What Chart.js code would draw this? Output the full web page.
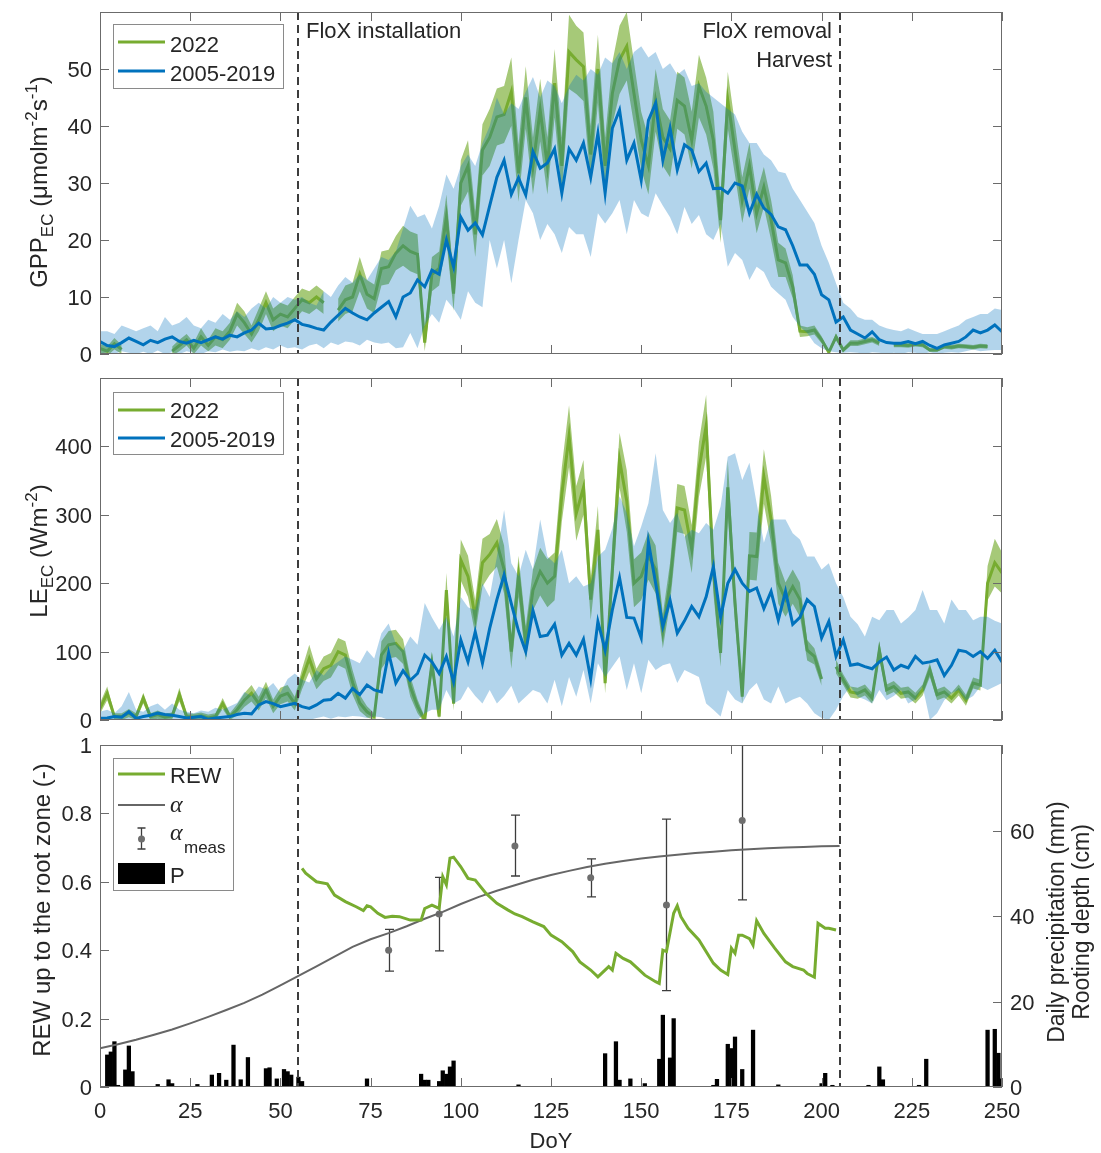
<!DOCTYPE html>
<html>
<head>
<meta charset="utf-8">
<script src="https://cdn.jsdelivr.net/npm/chart.js@4.4.1/dist/chart.umd.min.js"></script>
<style>
  body { margin: 0; background: #fff; width: 1101px; height: 1153px; position: relative; overflow: hidden; }
  canvas { position: absolute; left: 0; }
</style>
</head>
<body>
<canvas id="gppChart" width="1101" height="370" style="top:0px"></canvas>
<canvas id="leChart" width="1101" height="370" style="top:370px"></canvas>
<canvas id="rewChart" width="1101" height="423" style="top:730px"></canvas>
<script>
// Day grid for the GPP and LE panels (every second day)
const days = [
  0, 2, 4, 6, 8, 10, 12, 14, 16, 18, 20, 22, 24, 26, 28, 30, 32, 34, 36, 38,
  40, 42, 44, 46, 48, 50, 52, 54, 56, 58, 60, 62, 64, 66, 68, 70, 72, 74, 76, 78,
  80, 82, 84, 86, 88, 90, 92, 94, 96, 98, 100, 102, 104, 106, 108, 110, 112, 114, 116, 118,
  120, 122, 124, 126, 128, 130, 132, 134, 136, 138, 140, 142, 144, 146, 148, 150, 152, 154, 156, 158,
  160, 162, 164, 166, 168, 170, 172, 174, 176, 178, 180, 182, 184, 186, 188, 190, 192, 194, 196, 198,
  200, 202, 204, 206, 208, 210, 212, 214, 216, 218, 220, 222, 224, 226, 228, 230, 232, 234, 236, 238,
  240, 242, 244, 246, 248, 250
];

// GPP (umol m-2 s-1)
const gppMean = [
  2.2, 1.5, 1.3, 2.0, 2.8, 2.2, 1.6, 2.4, 2.0, 2.6,
  3.0, 2.2, 1.9, 2.4, 2.0, 2.5, 3.0, 2.6, 3.3, 3.0,
  3.7, 4.2, 5.4, 4.4, 4.5, 5.0, 5.4, 6.0, 5.2, 4.9,
  4.5, 4.2, 5.6, 6.8, 8.0, 7.2, 6.5, 6.0, 7.2, 8.2,
  9.2, 6.5, 10.0, 10.7, 13.0, 11.8, 14.7, 14.0, 20.0, 15.3,
  24.0, 21.7, 23.0, 20.9, 26.0, 31.0, 34.0, 28.0, 30.9, 27.9,
  35.5, 32.6, 33.5, 36.0, 28.2, 36.0, 34.0, 37.0, 31.0, 38.7,
  28.2, 39.6, 42.8, 34.0, 37.0, 30.5, 41.0, 44.0, 34.0, 39.6,
  32.3, 36.7, 35.8, 32.0, 33.5, 29.0, 29.1, 28.2, 30.0, 29.5,
  24.7, 28.0, 25.6, 24.5, 22.3, 21.8, 19.0, 15.6, 15.6, 14.0,
  10.4, 9.5, 5.6, 6.5, 4.2, 3.5, 2.8, 3.9, 2.5, 2.0,
  1.9, 1.9, 2.2, 1.8, 2.2, 1.5, 1.0, 1.6, 1.9, 2.2,
  3.0, 4.2, 3.7, 4.2, 5.1, 3.9
];
const gppMax = [
  4, 4, 3.5, 5, 4.5, 4, 4.5, 5, 4, 6.5,
  5, 5.5, 6.5, 5, 4.5, 6, 5.5, 7, 6, 7.5,
  6.5, 8, 9, 8, 10, 9, 10, 9.5, 10, 9,
  8.5, 11, 10, 12, 13.5, 12.5, 14, 13, 15, 17,
  16.5, 18, 22, 26, 24, 24.5, 22, 26, 31.5, 29,
  33, 35, 33, 37, 40, 45, 42, 44, 43, 46,
  48.6, 45, 48, 47, 44, 47, 49, 48, 50, 49,
  52, 51, 53, 50, 53, 54, 52, 53, 50, 51,
  49, 50, 47, 47.5, 46, 45, 44, 43, 42, 39,
  37, 37, 35, 34, 32, 31.7, 29, 27, 25, 23,
  19, 16, 12.4, 9, 8, 6.5, 6, 6, 5, 4.5,
  4.2, 4, 4.5, 4, 3.5, 3.5, 3.5, 4, 4.5, 5,
  6, 6.5, 7, 7, 8, 7.7
];
const gppMin = [
  0, 0.3, 0, 0.5, 0.2, 0, 0.4, 0, 0.6, 0,
  0.3, 0, 0.5, 0.2, 0, 0.5, 0.3, 0.8, 0.4, 0.6,
  0.5, 1.0, 0.6, 1.2, 0.8, 1.5, 1.0, 1.2, 0.8, 1.5,
  1.8, 1.0, 2.0, 1.6, 2.2, 2.0, 1.5, 2.5, 2.0, 1.8,
  2.0, 1.0, 1.2, 3.7, 1.0, 5.0, 7.0, 5.5, 9.5, 8.0,
  6.0, 11.0, 9.0, 8.2, 20.0, 15.0, 20.0, 12.4, 20.0, 27.0,
  24.7, 20.0, 22.8, 21.0, 17.7, 22.3, 21.0, 21.0, 17.0, 24.7,
  22.9, 24.7, 27.0, 21.0, 27.0, 24.7, 24.0, 28.2, 26.0, 24.0,
  21.0, 25.8, 22.8, 24.4, 21.0, 20.0, 22.8, 15.3, 17.7, 16.5,
  13.0, 15.3, 14.4, 11.8, 10.6, 9.5, 6.5, 4.8, 3.7, 1.9,
  1.0, 0.5, 0.3, 0.2, 0.3, 0.2, 0, 0.3, 0.2, 0,
  0.2, 0, 0.3, 0.2, 0, 0.3, 0, 0.2, 0.3, 0.2,
  0.5, 0.8, 0.5, 0.6, 0.7, 0.7
];
const gpp2022 = [
  1.0, 0.5, 1.8, 0.8, null, null, null, null, null, null,
  0.5, 1.5, 2.5, 1.0, 3.0, 1.5, 3.0, 2.5, 4.0, 7.0,
  5.5, 3.5, 6.0, 9.0, 6.0, 7.0, 6.5, 8.0, 9.5, 9.0,
  10.0, 9.0, null, 7.7, 9.5, 10.0, 14.0, 10.5, 9.7, 15.0,
  15.3, 17.7, 19.0, 18.0, 17.5, 2.0, 14.0, 15.0, 24.0, 10.6,
  30.0, 33.0, 21.0, 35.8, 38.0, 41.6, 42.0, 46.0, 31.7, 45.0,
  33.0, 42.8, 33.0, 47.5, 33.0, 53.0, 51.6, 50.4, 35.0, 50.0,
  33.0, 45.7, 51.6, 54.0, 45.7, 37.5, 33.0, 44.5, 38.0, 36.0,
  44.5, 43.5, 37.5, 47.0, 43.5, 37.5, 23.5, 44.5, 35.8, 27.0,
  33.0, 24.7, 29.3, 23.5, 16.5, 16.0, 11.8, 4.0, 3.9, 4.2,
  2.5, 0.3, 3.0, 0.7, 1.9, 1.9, 2.2, 2.5, 1.9, null,
  1.6, 1.6, 1.5, 1.7, 1.6, 0.7, 0.7, 1.3, 1.2, 1.4,
  1.3, 1.2, 1.4, 1.3, null, null
];
const gpp2022Err = [
  0.8, 0.8, 1.0, 0.8, 0, 0, 0, 0, 0, 0,
  0.8, 1.0, 1.0, 1.0, 1.5, 1.0, 1.5, 1.5, 1.5, 2.0,
  2.0, 1.5, 2.0, 2.0, 2.0, 2.0, 2.0, 2.0, 2.0, 2.0,
  2.0, 2.0, 0, 2.0, 2.5, 2.5, 3.0, 2.5, 2.5, 3.0,
  3.0, 3.0, 3.5, 3.5, 3.5, 1.5, 3.0, 3.0, 4.0, 3.0,
  4.0, 4.5, 4.0, 4.5, 5.0, 5.0, 5.0, 6.0, 5.0, 5.5,
  5.0, 5.5, 5.0, 6.0, 5.0, 6.5, 6.0, 6.0, 5.0, 6.0,
  5.0, 5.5, 6.0, 6.0, 5.5, 5.0, 5.0, 5.5, 5.0, 5.0,
  5.0, 5.0, 5.0, 5.5, 5.0, 5.0, 4.0, 5.0, 4.5, 4.0,
  4.0, 3.5, 3.5, 3.5, 3.0, 2.5, 2.0, 1.0, 0.8, 0.8,
  0.6, 0.3, 0.6, 0.4, 0.5, 0.5, 0.5, 0.5, 0.5, 0,
  0.4, 0.4, 0.4, 0.4, 0.4, 0.3, 0.3, 0.4, 0.4, 0.4,
  0.4, 0.4, 0.4, 0.4, 0, 0
];

// LE (W m-2)
const leMean = [
  2.4, 3, 5, 4, 12, 2.4, 5, 7, 10, 8,
  7, 5, 3, 4, 5, 1, 3, 4, 5, 8,
  10, 9, 22, 27, 24, 19.5, 22, 24.4, 19.5, 17,
  22, 29, 30, 39, 32, 46, 37, 51, 44, 41,
  98, 54, 72, 58, 68, 95, 85, 68, 93, 56,
  117, 85, 129, 83, 134, 176, 212, 170, 130, 100,
  160, 122, 124, 140, 95, 112, 95, 118, 60, 144,
  102, 161, 208, 150, 149, 120, 260, 200, 137, 175,
  127, 145, 166, 151, 180, 224, 150, 200, 220, 200,
  188, 193, 163, 188, 146, 188, 140, 150, 176, 166,
  120, 144, 93, 117, 80, 82, 78, 75, 85, 92,
  73, 80, 76, 93, 83, 85, 88, 65, 80, 102,
  100, 93, 100, 90, 102, 85
];
const leMax = [
  12, 15, 10, 20, 41, 15, 12, 20, 24, 15,
  24, 15, 12, 10, 14, 12, 18, 15, 20, 25,
  41, 35, 49, 45, 54, 40, 60, 68, 59, 55,
  73, 65, 78, 85, 93, 88, 83, 102, 90, 127,
  141, 112, 102, 122, 110, 171, 150, 132, 151, 122,
  180, 165, 161, 200, 180, 239, 307, 229, 210, 249,
  220, 293, 239, 229, 249, 200, 210, 195, 200, 239,
  249, 280, 327, 303, 254, 283, 317, 390, 307, 288,
  303, 268, 278, 273, 288, 278, 312, 385, 390, 351,
  376, 317, 259, 293, 293, 293, 273, 264, 239, 239,
  220, 229, 200, 180, 151, 140, 122, 151, 146, 161,
  161, 141, 150, 161, 190, 161, 161, 141, 176, 161,
  161, 146, 151, 151, 145, 141
];
const leMin = [
  0, 0, 0, 0, 0, 0, 0, 0, 0, 0,
  0, 0, 0, 0, 0, 0, 0, 0, 0, 0,
  0, 0, 0, 0, 0, 0, 0, 2, 0, 0,
  3, 5, 2, 5, 4, 6, 5, 3, 5, 4,
  0, 0, 0, 0, 0, 10, 15, 15, 44, 24,
  30, 49, 35, 24, 44, 24, 35, 50, 24, 34,
  44, 40, 24, 59, 20, 63, 34, 73, 24, 83,
  63, 78, 93, 44, 83, 39, 88, 73, 80, 83,
  54, 73, 68, 63, 24, 15, 5, 44, 30, 24,
  44, 54, 30, 24, 49, 24, 30, 34, 24, 10,
  3, 0, 15, 35, 49, 34, 30, 24, 44, 29,
  35, 44, 24, 30, 49, 0, 10, 29, 39, 44,
  29, 35, 49, 44, 49, 54
];
const le2022 = [
  17, 39, 5, 5, 10, 5, 32, 5, 8, 4,
  6, 37, 5, 4, 6, 3, 5, 24, 5, 15,
  29, 39, 24, 44, 20, 35, 39, 24, 60, 90,
  60, 75, 80, 100, 95, 55, 25, 12, 5, 95,
  110, 112, 100, 49, 20, 0, 83, 5, 190, 24,
  234, 210, 150, 230, 242, 259, 220, 100, 210, 112,
  190, 217, 200, 210, 330, 415, 302, 340, 176, 278,
  54, 220, 380, 320, 200, 210, 240, 220, 130, 200,
  310, 307, 250, 366, 430, 220, 98, 340, 171, 34,
  240, 239, 356, 293, 200, 176, 195, 176, 102, 93,
  60, null, 78, 59, 41, 39, 44, 32, 102, 44,
  49, 39, 41, 32, 44, 73, 37, 41, 32, 44,
  29, 54, 51, 200, 230, 215
];
const le2022Err = [
  8, 10, 5, 5, 6, 5, 8, 5, 6, 5,
  5, 10, 5, 5, 5, 5, 5, 8, 5, 8,
  10, 12, 10, 12, 10, 12, 12, 10, 15, 20,
  15, 18, 18, 20, 20, 18, 12, 8, 5, 20,
  20, 20, 18, 15, 10, 5, 15, 5, 25, 10,
  30, 30, 25, 35, 30, 35, 35, 25, 30, 25,
  30, 35, 35, 35, 40, 45, 40, 40, 30, 35,
  15, 35, 40, 45, 35, 35, 35, 35, 25, 30,
  35, 35, 35, 40, 45, 35, 20, 40, 30, 10,
  35, 35, 40, 35, 30, 25, 25, 25, 15, 12,
  10, 0, 10, 8, 8, 8, 8, 8, 12, 8,
  8, 8, 8, 8, 8, 10, 8, 8, 8, 8,
  8, 8, 8, 25, 35, 30
];

// REW up to the root zone (-)
const rewDays = [
  56, 57, 60, 63, 65, 68, 71, 73, 74, 75, 77, 79, 81, 83, 86, 89, 90, 92, 94, 95,
  96, 97, 98, 100, 102, 104, 107, 110, 113, 115, 117, 120, 123, 125, 128, 131, 133, 136, 138, 141,
  142, 143, 145, 147, 149, 151, 154, 155, 156, 157, 159, 160, 161, 163, 166, 170, 172, 174, 175, 176,
  177, 178, 180, 181, 182, 184, 187, 190, 192, 195, 196, 198, 199, 201, 202, 204
];
const rew = [
  0.639, 0.625, 0.600, 0.594, 0.561, 0.542, 0.527, 0.516, 0.530, 0.527, 0.508, 0.496, 0.499, 0.498, 0.488, 0.488, 0.522, 0.532, 0.522, 0.615,
  0.591, 0.669, 0.672, 0.644, 0.610, 0.605, 0.566, 0.537, 0.518, 0.506, 0.498, 0.483, 0.469, 0.444, 0.425, 0.396, 0.366, 0.342, 0.322, 0.352,
  0.342, 0.391, 0.376, 0.366, 0.347, 0.327, 0.308, 0.303, 0.400, 0.396, 0.508, 0.530, 0.498, 0.464, 0.430, 0.362, 0.342, 0.329, 0.406, 0.391,
  0.444, 0.444, 0.434, 0.415, 0.486, 0.449, 0.406, 0.366, 0.352, 0.342, 0.332, 0.321, 0.479, 0.464, 0.464, 0.459
];

// alpha (modelled) and alpha_meas
const alphaDays = [
  0, 5, 10, 15, 20, 25, 30, 35, 40, 45, 50, 55, 60, 65, 70, 75, 80, 85, 90, 95,
  100, 105, 110, 115, 120, 125, 130, 135, 140, 145, 150, 155, 160, 165, 170, 175, 180, 185, 190, 195,
  200, 205
];
const alpha = [
  0.113, 0.125, 0.138, 0.153, 0.168, 0.186, 0.205, 0.225, 0.246, 0.270,
  0.297, 0.325, 0.353, 0.381, 0.410, 0.432, 0.450, 0.470, 0.492, 0.512,
  0.535, 0.556, 0.574, 0.590, 0.606, 0.620, 0.632, 0.643, 0.653, 0.661,
  0.668, 0.674, 0.679, 0.684, 0.688, 0.692, 0.695, 0.698, 0.700, 0.702,
  0.704, 0.705
];
const measDays = [80, 94, 115, 136, 157, 178];
const measAlpha = [0.400, 0.506, 0.705, 0.612, 0.532, 0.779];
const measLow = [0.339, 0.398, 0.617, 0.556, 0.282, 0.547];
const measHigh = [0.461, 0.613, 0.795, 0.667, 0.783, 1.011];

// Daily precipitation (mm)
const rainDays = [
  2, 3, 4, 5, 7, 8, 9, 16, 19, 20, 27, 31, 33, 35, 37, 39, 41, 46, 47, 49,
  51, 52, 53, 55, 56, 74, 89, 90, 91, 94, 95, 96, 97, 98, 116, 140, 143, 144, 147, 151,
  155, 156, 158, 159, 170, 171, 174, 175, 176, 178, 181, 188, 200, 201, 203, 213, 216, 217, 227, 229,
  246, 248, 249, 250
];
const rain = [
  7.5, 8.2, 10.6, 0.4, 4.0, 9.6, 3.6, 0.6, 1.7, 0.8, 0.6, 2.8, 3.2, 1.6, 9.8, 1.7, 6.9, 4.3, 4.5, 1.9,
  4.1, 3.6, 2.8, 2.3, 1.3, 1.9, 3.0, 1.6, 1.6, 1.3, 3.8, 3.0, 4.7, 6.1, 0.5, 7.8, 10.6, 1.6, 1.9, 0.8,
  6.5, 16.8, 6.8, 16.0, 0.4, 1.8, 10.0, 9.0, 11.7, 4.1, 13.3, 0.5, 0.8, 3.2, 0.4, 0.4, 4.7, 1.7, 0.4, 6.5,
  13.3, 13.5, 7.9, 1.9
];

// Events and axes
const eventDays = [55, 205];
const xTicks = [0, 25, 50, 75, 100, 125, 150, 175, 200, 225, 250];
const gppTicks = [0, 10, 20, 30, 40, 50];
const leTicks = [0, 100, 200, 300, 400];
const rewTicks = [0, 0.2, 0.4, 0.6, 0.8, 1];
const rainTicks = [0, 20, 40, 60];

// Style
const FONT = '"Liberation Sans", Arial, Helvetica, sans-serif';
const SERIF = '"Liberation Serif", "DejaVu Serif", serif';
const INK = '#262626';
const AXIS = '#6b6b6b';
const GREEN = '#77AC30';
const BLUE = '#0072BD';
const GREY = '#666666';
const TICK = 9;
const PLOT_L = 100, PLOT_R = 1002;

function pts(xs, ys) {
  return xs.map((x, i) => ({ x: x, y: ys[i] }));
}
function offsetBy(ys, es, sign) {
  return ys.map((v, i) => (v == null ? null : v + sign * es[i]));
}

// Text with sub/superscripts, centred on (x, y), optionally rotated
function rich(ctx, parts, x, y, rot) {
  ctx.save();
  ctx.translate(x, y);
  if (rot) ctx.rotate(rot);
  ctx.textAlign = 'left';
  ctx.textBaseline = 'alphabetic';
  ctx.fillStyle = INK;
  let w = 0;
  parts.forEach(p => { ctx.font = p.f; w += ctx.measureText(p.t).width; });
  let cx = -w / 2;
  parts.forEach(p => {
    ctx.font = p.f;
    ctx.fillText(p.t, cx, p.dy || 0);
    cx += ctx.measureText(p.t).width;
  });
  ctx.restore();
}

function text(ctx, s, x, y, font, align) {
  ctx.font = font;
  ctx.fillStyle = INK;
  ctx.textAlign = align || 'left';
  ctx.textBaseline = 'alphabetic';
  ctx.fillText(s, x, y);
}

function legendBox(ctx, x, y, w, h) {
  ctx.fillStyle = '#fff';
  ctx.fillRect(x, y, w, h);
  ctx.strokeStyle = '#8a8a8a';
  ctx.lineWidth = 1;
  ctx.strokeRect(x + 0.5, y + 0.5, w, h);
}

function sampleLine(ctx, y, color, width) {
  ctx.strokeStyle = color;
  ctx.lineWidth = width;
  ctx.beginPath();
  ctx.moveTo(118, y);
  ctx.lineTo(165, y);
  ctx.stroke();
}

// Box, inward ticks, labels, event lines
function framePlugin(cfg) {
  return {
    id: 'frame',
    beforeDatasetsDraw(chart) {
      if (cfg.under) cfg.under(chart);
    },
    afterDatasetsDraw(chart) {
      const { ctx, chartArea: a, scales } = chart;
      ctx.save();
      ctx.setLineDash([8, 5]);
      ctx.lineWidth = 2;
      ctx.strokeStyle = '#3d3d3d';
      eventDays.forEach(d => {
        const px = Math.round(scales.x.getPixelForValue(d));
        ctx.beginPath();
        ctx.moveTo(px, a.top);
        ctx.lineTo(px, a.bottom);
        ctx.stroke();
      });
      ctx.restore();
    },
    afterDraw(chart) {
      const { ctx, chartArea: a, scales } = chart;
      const x = scales.x, y = scales.y;
      ctx.save();
      ctx.strokeStyle = AXIS;
      ctx.lineWidth = 1;
      ctx.strokeRect(a.left + 0.5, a.top + 0.5, a.right - a.left - 1, a.bottom - a.top - 1);
      ctx.beginPath();
      xTicks.forEach(t => {
        const px = Math.round(x.getPixelForValue(t)) + 0.5;
        ctx.moveTo(px, a.bottom); ctx.lineTo(px, a.bottom - TICK);
        ctx.moveTo(px, a.top); ctx.lineTo(px, a.top + TICK);
      });
      cfg.yTicks.forEach(t => {
        const py = Math.round(y.getPixelForValue(t)) + 0.5;
        ctx.moveTo(a.left, py); ctx.lineTo(a.left + TICK, py);
        if (!cfg.y2Ticks) { ctx.moveTo(a.right, py); ctx.lineTo(a.right - TICK, py); }
      });
      if (cfg.y2Ticks) {
        cfg.y2Ticks.forEach(t => {
          const py = Math.round(scales.y2.getPixelForValue(t)) + 0.5;
          ctx.moveTo(a.right, py); ctx.lineTo(a.right - TICK, py);
        });
      }
      ctx.stroke();

      const tickFont = '22px ' + FONT;
      cfg.yTicks.forEach(t => {
        text(ctx, cfg.yFmt ? cfg.yFmt(t) : String(t), a.left - 8, y.getPixelForValue(t) + 8, tickFont, 'right');
      });
      if (cfg.y2Ticks) {
        cfg.y2Ticks.forEach(t => {
          text(ctx, String(t), a.right + 8, scales.y2.getPixelForValue(t) + 8, tickFont, 'left');
        });
      }
      if (cfg.xLabels) {
        xTicks.forEach(t => {
          text(ctx, String(t), x.getPixelForValue(t), a.bottom + 31, tickFont, 'center');
        });
      }

      // fixed page-positioned decorations
      ctx.translate(0, -cfg.top);
      cfg.decorate(ctx);
      ctx.restore();
    }
  };
}

function makeChart(id, top, height, areaTop, areaBottom, datasets, scales, cfg) {
  cfg.top = top;
  return new Chart(document.getElementById(id), {
    type: 'line',
    data: { datasets: datasets },
    options: {
      responsive: false,
      animation: false,
      devicePixelRatio: 1,
      layout: {
        padding: { left: PLOT_L, right: 1101 - PLOT_R, top: areaTop - top, bottom: top + height - areaBottom }
      },
      plugins: { legend: { display: false }, tooltip: { enabled: false } },
      elements: { point: { radius: 0 }, line: { tension: 0 } },
      scales: scales
    },
    plugins: [framePlugin(cfg)]
  });
}

// Mean +- range of 2005-2019 (blue) over the 2022 series (green)
function bandDatasets(mean, lo, hi, y22, err) {
  return [
    { data: pts(days, mean), borderColor: BLUE, borderWidth: 3, fill: false },
    { data: pts(days, hi), borderWidth: 0, borderColor: 'rgba(0,0,0,0)', backgroundColor: 'rgba(0,114,189,0.3)', fill: '+1' },
    { data: pts(days, lo), borderWidth: 0, borderColor: 'rgba(0,0,0,0)', fill: false },
    { data: pts(days, y22), borderColor: GREEN, borderWidth: 3, fill: false },
    { data: pts(days, offsetBy(y22, err, 1)), borderWidth: 0, borderColor: 'rgba(0,0,0,0)', backgroundColor: 'rgba(119,172,48,0.65)', fill: '+1' },
    { data: pts(days, offsetBy(y22, err, -1)), borderWidth: 0, borderColor: 'rgba(0,0,0,0)', fill: false }
  ];
}

const big = '24px ' + FONT;
const small = '17px ' + FONT;

// Panel 1: GPP
makeChart('gppChart', 0, 370, 12, 354,
  bandDatasets(gppMean, gppMin, gppMax, gpp2022, gpp2022Err),
  {
    x: { type: 'linear', min: 0, max: 250, display: false },
    y: { min: 0, max: 60, display: false }
  },
  {
    yTicks: gppTicks,
    decorate(ctx) {
      legendBox(ctx, 113, 24, 170, 64);
      sampleLine(ctx, 42, GREEN, 3);
      sampleLine(ctx, 71, BLUE, 3);
      text(ctx, '2022', 170, 52, '22px ' + FONT);
      text(ctx, '2005-2019', 170, 81, '22px ' + FONT);
      text(ctx, 'FloX installation', 306, 38, '22px ' + FONT);
      text(ctx, 'FloX removal', 832, 38, '22px ' + FONT, 'right');
      text(ctx, 'Harvest', 832, 67, '22px ' + FONT, 'right');
      rich(ctx, [
        { t: 'GPP', f: big }, { t: 'EC', f: small, dy: 6 }, { t: ' (\u03bcmolm', f: big },
        { t: '-2', f: small, dy: -10 }, { t: 's', f: big }, { t: '-1', f: small, dy: -10 }, { t: ')', f: big }
      ], 47, 182, -Math.PI / 2);
    }
  });

// Panel 2: LE
makeChart('leChart', 370, 370, 378, 720,
  bandDatasets(leMean, leMin, leMax, le2022, le2022Err),
  {
    x: { type: 'linear', min: 0, max: 250, display: false },
    y: { min: 0, max: 500, display: false }
  },
  {
    yTicks: leTicks,
    decorate(ctx) {
      legendBox(ctx, 113, 392, 170, 62);
      sampleLine(ctx, 410, GREEN, 3);
      sampleLine(ctx, 438, BLUE, 3);
      text(ctx, '2022', 170, 418, '22px ' + FONT);
      text(ctx, '2005-2019', 170, 447, '22px ' + FONT);
      rich(ctx, [
        { t: 'LE', f: big }, { t: 'EC', f: small, dy: 6 }, { t: ' (Wm', f: big },
        { t: '-2', f: small, dy: -10 }, { t: ')', f: big }
      ], 47, 551, -Math.PI / 2);
    }
  });

// Panel 3: REW, alpha, precipitation
function drawErrorBar(ctx, px, yTop, yBot, half) {
  ctx.beginPath();
  ctx.moveTo(px, yTop); ctx.lineTo(px, yBot);
  ctx.moveTo(px - half, yTop); ctx.lineTo(px + half, yTop);
  ctx.moveTo(px - half, yBot); ctx.lineTo(px + half, yBot);
  ctx.stroke();
}

makeChart('rewChart', 730, 423, 745, 1087,
  [
    { data: pts(rewDays, rew), borderColor: GREEN, borderWidth: 3, fill: false },
    { data: pts(alphaDays, alpha), borderColor: GREY, borderWidth: 2, fill: false },
    { data: pts(measDays, measAlpha), showLine: false, pointRadius: 3.5, pointBackgroundColor: '#6e6e6e', pointBorderWidth: 0, borderColor: '#6e6e6e' },
    { type: 'bar', data: pts(rainDays, rain), yAxisID: 'y2', backgroundColor: '#000', borderWidth: 0, barPercentage: 1, categoryPercentage: 1 }
  ],
  {
    x: { type: 'linear', min: 0, max: 250, display: false, offset: false },
    y: { min: 0, max: 1, display: false },
    y2: { type: 'linear', position: 'right', min: 0, max: 80, display: false }
  },
  {
    yTicks: rewTicks,
    y2Ticks: rainTicks,
    xLabels: true,
    yFmt: v => (v === 0 || v === 1 ? String(v) : v.toFixed(1)),
    under(chart) {
      const { ctx, chartArea: a, scales } = chart;
      ctx.save();
      ctx.beginPath();
      ctx.rect(a.left, a.top, a.right - a.left, a.bottom - a.top);
      ctx.clip();
      ctx.strokeStyle = '#3c3c3c';
      ctx.lineWidth = 1.3;
      measDays.forEach((d, i) => {
        const px = Math.round(scales.x.getPixelForValue(d)) + 0.5;
        drawErrorBar(ctx, px, scales.y.getPixelForValue(measHigh[i]), scales.y.getPixelForValue(measLow[i]), 4.5);
      });
      ctx.restore();
    },
    decorate(ctx) {
      legendBox(ctx, 113, 758, 120, 132);
      sampleLine(ctx, 774, GREEN, 3);
      sampleLine(ctx, 805, GREY, 2);
      text(ctx, 'REW', 170, 783, '22px ' + FONT);
      text(ctx, '\u03b1', 170, 812, 'italic 24px ' + SERIF);
      ctx.strokeStyle = '#3c3c3c';
      ctx.lineWidth = 1.3;
      drawErrorBar(ctx, 141.5, 828, 849, 4);
      ctx.fillStyle = '#6e6e6e';
      ctx.beginPath(); ctx.arc(141.5, 839, 3.5, 0, Math.PI * 2); ctx.fill();
      text(ctx, '\u03b1', 170, 840, 'italic 24px ' + SERIF);
      text(ctx, 'meas', 184, 853, '17px ' + FONT);
      ctx.fillStyle = '#000';
      ctx.fillRect(118, 863, 47, 21);
      text(ctx, 'P', 170, 883, '22px ' + FONT);
      text(ctx, 'DoY', 551, 1148, '22px ' + FONT, 'center');
      rich(ctx, [{ t: 'REW up to the root zone (-)', f: big }], 50, 910, -Math.PI / 2);
      rich(ctx, [{ t: 'Daily precipitation (mm)', f: '23px ' + FONT }], 1064, 922, -Math.PI / 2);
      rich(ctx, [{ t: 'Rooting depth (cm)', f: '23px ' + FONT }], 1089, 922, -Math.PI / 2);
    }
  });
</script>
</body>
</html>
